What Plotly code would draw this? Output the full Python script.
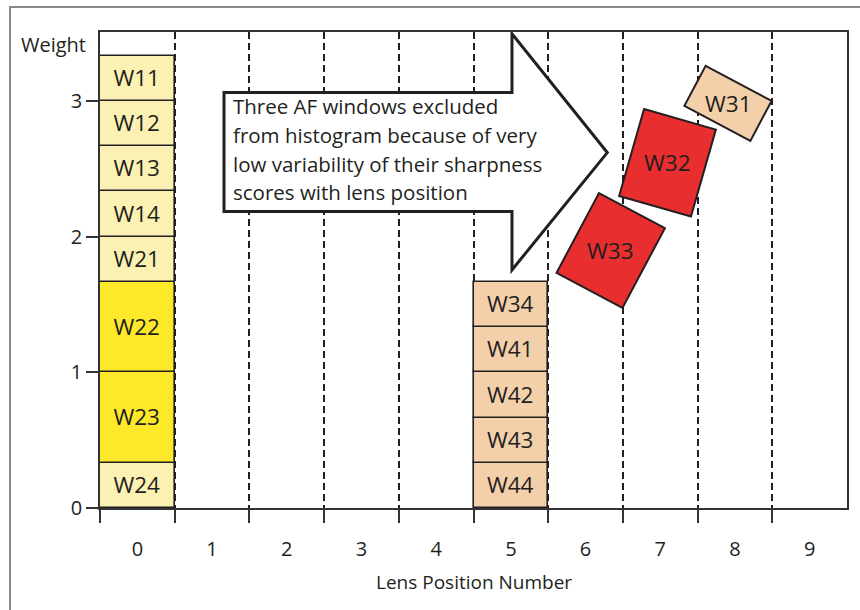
import math
import plotly.graph_objects as go

# ---------------- data ----------------
lens_positions = [0, 1, 2, 3, 4, 5, 6, 7, 8, 9]
tick_labels = ["0", "1", "2", "3", "4", "5", "6", "7", "8", "9"]

# windows kept in the histogram (stacked bottom -> top inside each bin)
window_names = ["W24", "W23", "W22", "W21", "W14", "W13", "W12", "W11",
                "W44", "W43", "W42", "W41", "W34"]
window_bins = [0, 0, 0, 0, 0, 0, 0, 0,
               5, 5, 5, 5, 5]
window_weights = [1/3, 2/3, 2/3, 1/3, 1/3, 1/3, 1/3, 1/3,
                  1/3, 1/3, 1/3, 1/3, 1/3]

# windows excluded from the histogram (drawn tilted, off the stacks)
excluded_names = ["W31", "W32", "W33"]
excluded_weights = [1/3, 2/3, 2/3]
excluded_x = [7.907, 7.097, 6.337]
excluded_y = [2.983, 2.545, 1.898]
excluded_tilt_deg = [28, 16, 28]   # clockwise tilt on screen

callout_lines = ["Three AF windows excluded",
                 "from histogram because of very",
                 "low variability of their sharpness",
                 "scores with lens position"]

# ---------------- style ----------------
W, H = 860, 610
M_L, M_R, M_T, M_B = 100, 13, 32, 102
X_RANGE = [-0.5, 9.5]
Y_RANGE = [0, 3.509]
PLOT_W = W - M_L - M_R
PLOT_H = H - M_T - M_B
PX_X = PLOT_W / (X_RANGE[1] - X_RANGE[0])
PX_Y = PLOT_H / (Y_RANGE[1] - Y_RANGE[0])

INK = "#231F20"
FONT = "Open Sans, Noto Sans, Arial, sans-serif"
NARROW = "Liberation Sans Narrow, Open Sans, Arial, sans-serif"
color_of = {
    "W22": "#FDE92A", "W23": "#FDE92A",
    "W24": "#FBF1B3", "W21": "#FBF1B3", "W14": "#FBF1B3", "W13": "#FBF1B3",
    "W12": "#FBF1B3", "W11": "#FBF1B3",
    "W44": "#F3D0AA", "W43": "#F3D0AA", "W42": "#F3D0AA", "W41": "#F3D0AA",
    "W34": "#F3D0AA", "W31": "#F3D0AA",
    "W32": "#E92E2F", "W33": "#E92E2F",
}

# callout arrow geometry (data units)
arrow_body_x = [1.160, 5.015]
arrow_body_y = [2.185, 3.063]
arrow_head_y = [1.755, 3.496]
arrow_tip = (6.291, 2.620)
callout_text_x = 1.254
callout_text_y0 = 2.960
callout_step = 28.6 / PX_Y

# ---------------- build ----------------
bases = []
running = {}
for b, w in zip(window_bins, window_weights):
    bases.append(running.get(b, 0.0))
    running[b] = running.get(b, 0.0) + w

fig = go.Figure()
fig.add_trace(go.Bar(
    x=window_bins, y=window_weights, base=bases, width=1.0,
    marker=dict(color=[color_of[n] for n in window_names],
                line=dict(color=INK, width=1.6)),
    text=window_names, textposition="inside", insidetextanchor="middle",
    textangle=0, constraintext="none",
    textfont=dict(family=FONT, size=22.5, color=INK),
    hoverinfo="skip", showlegend=False,
))

shapes = []
annotations = []

# outer frame of the figure
shapes.append(dict(type="rect", xref="paper", yref="paper",
                   x0=(10 - M_L) / PLOT_W, x1=(875 - M_L) / PLOT_W,
                   y0=(H - M_B - 625) / PLOT_H, y1=(H - M_B - 7) / PLOT_H,
                   line=dict(color="#8A8A8A", width=2), layer="below"))

# callout arrow
ax0, ax1 = arrow_body_x
by0, by1 = arrow_body_y
hy0, hy1 = arrow_head_y
tx, ty = arrow_tip
path = (f"M{ax0},{by1} L{ax1},{by1} L{ax1},{hy1} L{tx},{ty} "
        f"L{ax1},{hy0} L{ax1},{by0} L{ax0},{by0} Z")
shapes.append(dict(type="path", xref="x", yref="y", path=path,
                   fillcolor="white", line=dict(color=INK, width=3),
                   layer="above"))
for i, line in enumerate(callout_lines):
    annotations.append(dict(x=callout_text_x, y=callout_text_y0 - i * callout_step,
                            xref="x", yref="y", text=line, showarrow=False,
                            xanchor="left", yanchor="middle", align="left",
                            font=dict(family=FONT, size=20.5, color=INK)))

# tilted excluded windows
for name, wgt, cx, cy, tilt in zip(excluded_names, excluded_weights,
                                   excluded_x, excluded_y, excluded_tilt_deg):
    wpx = 1.0 * PX_X
    hpx = wgt * PX_Y
    t = math.radians(tilt)
    pts = []
    for sx, sy in [(-1, -1), (1, -1), (1, 1), (-1, 1)]:
        dx, dy = sx * wpx / 2, sy * hpx / 2          # screen coords, y down
        rx = dx * math.cos(t) - dy * math.sin(t)
        ry = dx * math.sin(t) + dy * math.cos(t)
        pts.append((cx + rx / PX_X, cy - ry / PX_Y))
    p = "M" + " L".join(f"{a},{b}" for a, b in pts) + " Z"
    shapes.append(dict(type="path", xref="x", yref="y", path=p,
                       fillcolor=color_of[name], line=dict(color=INK, width=2),
                       layer="above"))
    annotations.append(dict(x=cx, y=cy, xref="x", yref="y", text=name,
                            showarrow=False, xanchor="center", yanchor="middle",
                            font=dict(family=FONT, size=22.5, color=INK)))

# axis titles
annotations.append(dict(x=(88 - M_L) / PLOT_W, y=(H - M_B - 44) / PLOT_H,
                        xref="paper", yref="paper", text="Weight", showarrow=False,
                        xanchor="right", yanchor="middle",
                        font=dict(family=FONT, size=20, color=INK)))
annotations.append(dict(x=0.5, y=(H - M_B - 582) / PLOT_H,
                        xref="paper", yref="paper", text="Lens Position Number",
                        showarrow=False, xanchor="center", yanchor="middle",
                        font=dict(family=NARROW, size=19, color=INK)))

fig.update_layout(
    width=W, height=H,
    margin=dict(l=M_L, r=M_R, t=M_T, b=M_B, autoexpand=False),
    paper_bgcolor="white", plot_bgcolor="white",
    barmode="overlay", bargap=0,
    shapes=shapes, annotations=annotations,
    xaxis=dict(range=X_RANGE, tickvals=lens_positions, ticktext=tick_labels,
               ticks="outside", ticklen=22, tickcolor="rgba(0,0,0,0)",
               tickfont=dict(family=NARROW, size=20, color=INK),
               showgrid=False, zeroline=False,
               showline=True, linecolor="#333333", linewidth=1.5, mirror=True,
               minor=dict(tickmode="array",
                          tickvals=[p - 0.5 for p in lens_positions],
                          ticks="outside", ticklen=13, tickwidth=1.5,
                          tickcolor="#333333",
                          showgrid=True, gridcolor=INK, gridwidth=2,
                          griddash="7px,4px"),
               fixedrange=True, automargin=False),
    yaxis=dict(range=Y_RANGE, tickvals=[0, 1, 2, 3], ticktext=["0", "1", "2", "3"],
               ticks="outside", ticklen=12, tickwidth=1.5, tickcolor="#333333",
               tickfont=dict(family=FONT, size=20, color=INK),
               showgrid=False, zeroline=False,
               showline=True, linecolor="#333333", linewidth=1.5, mirror=True,
               fixedrange=True, automargin=False),
)

fig.write_html("out.html", config={"displayModeBar": False},
               post_script="document.body.style.margin='0';"
                           "document.body.style.overflow='hidden';")
